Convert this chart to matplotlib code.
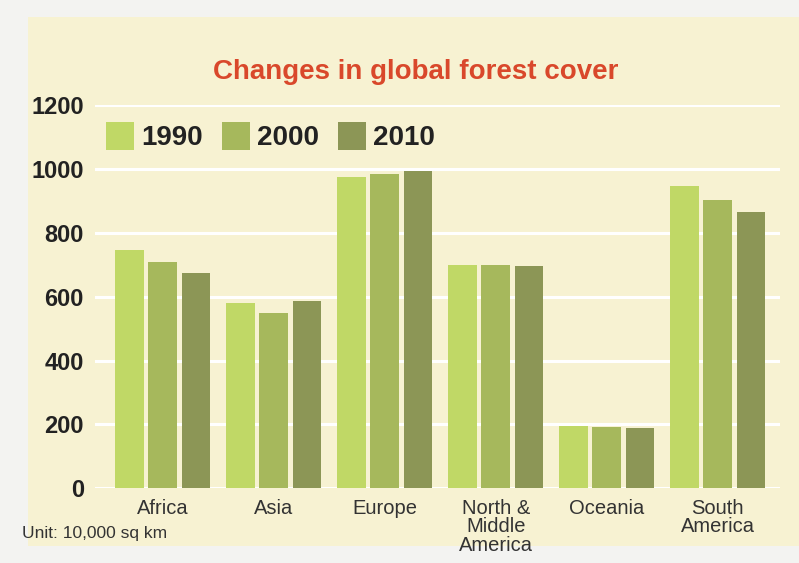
import matplotlib
matplotlib.use("Agg")
import matplotlib.pyplot as plt
from matplotlib.patches import Rectangle
import numpy as np

categories = ["Africa", "Asia", "Europe", "North &\nMiddle\nAmerica", "Oceania", "South\nAmerica"]
years = ["1990", "2000", "2010"]
v1990 = [746, 581, 975, 700, 196, 946]
v2000 = [710, 549, 985, 698, 193, 904]
v2010 = [673, 586, 995, 695, 189, 864]
yticks = [0, 200, 400, 600, 800, 1000, 1200]

colors = ["#c0d866", "#a6b85c", "#8c9656"]
cream = "#f7f2d2"
sans = ["Liberation Sans", "DejaVu Sans"]

fig = plt.figure(figsize=(7.99, 5.63), dpi=100)
fig.patch.set_facecolor("#f3f3f1")
fig.patches.append(Rectangle((0.035, 0.03), 0.965, 0.94, transform=fig.transFigure,
                             facecolor=cream, edgecolor="none", zorder=-10))

ax = fig.add_axes([0.119, 0.133, 0.857, 0.68])
ax.set_facecolor(cream)
x = np.arange(len(categories))
w = 0.26
off = 0.3
series = [v1990, v2000, v2010]
for i, (vals, col, yr) in enumerate(zip(series, colors, years)):
    ax.bar(x + (i - 1) * off, vals, width=w, color=col, label=yr, zorder=3)

ax.set_ylim(0, 1200)
ax.set_xlim(-0.61, 5.56)
ax.set_yticks(yticks)
ax.set_yticklabels([str(t) for t in yticks], fontsize=17, fontweight="bold",
                   family=sans, color="#222222")
ax.yaxis.grid(True, color="white", linewidth=2.2, zorder=0)
ax.set_axisbelow(True)
ax.tick_params(axis="y", length=0, pad=8)
ax.set_xticks(x)
ax.set_xticklabels(categories, fontsize=14.5, family=sans, color="#333333",
                   linespacing=0.95, va="top")
ax.tick_params(axis="x", length=0, pad=8)
for s in ax.spines.values():
    s.set_visible(False)

leg = ax.legend(loc="upper left", bbox_to_anchor=(0.0, 0.985), ncol=3, frameon=False,
                handlelength=1.0, handleheight=1.15, handletextpad=0.25, columnspacing=0.7,
                borderpad=0.2, borderaxespad=0.2,
                prop={"family": sans, "weight": "bold", "size": 20})
for t in leg.get_texts():
    t.set_color("#222222")

fig.text(0.52, 0.872, "Changes in global forest cover", ha="center", va="center",
         fontsize=20, fontweight="bold", family=sans, color="#d9482b")
fig.text(0.028, 0.052, "Unit: 10,000 sq km", ha="left", va="center",
         fontsize=12.5, family=sans, color="#333333")

fig.savefig("out.png", dpi=100, facecolor=fig.get_facecolor())
